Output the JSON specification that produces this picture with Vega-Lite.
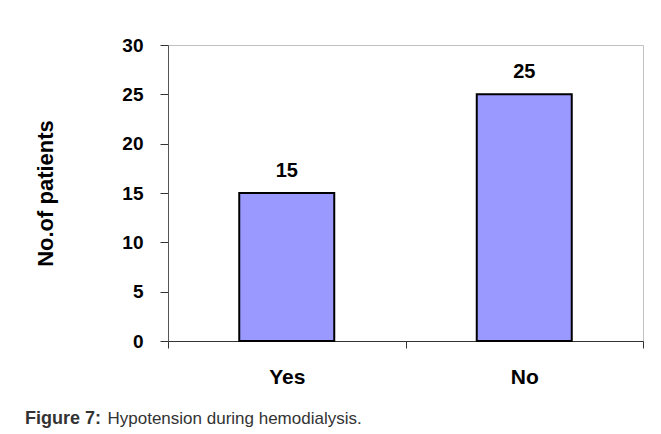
{
  "$schema": "https://vega.github.io/schema/vega-lite/v6.json",
  "width": 475,
  "height": 296,
  "autosize": {"type": "none"},
  "padding": {"left": 168, "top": 45, "right": 18, "bottom": 93},
  "background": "white",
  "data": {"values": [
    {"answer": "Yes", "patients": 15},
    {"answer": "No", "patients": 25}
  ]},
  "title": {
    "text": "Figure 7:",
    "orient": "bottom",
    "anchor": "start",
    "frame": "group",
    "dx": -143,
    "offset": -16,
    "font": "Liberation Sans",
    "fontSize": 18,
    "fontWeight": "bold",
    "color": "#333333"
  },
  "config": {
    "view": {"stroke": "#c0c0c0", "strokeWidth": 1},
    "axis": {"grid": false}
  },
  "encoding": {
    "x": {
      "field": "answer",
      "type": "nominal",
      "sort": ["Yes", "No"],
      "scale": {"paddingInner": 0, "paddingOuter": 0},
      "axis": {
        "labelAngle": 0,
        "tickBand": "extent",
        "tickSize": 7,
        "tickColor": "#333333",
        "domainColor": "#333333",
        "labelFont": "Liberation Sans",
        "labelFontSize": 21,
        "labelFontWeight": "bold",
        "labelColor": "#000000",
        "labelBaseline": "alphabetic",
        "labelPadding": 35,
        "title": "Hypotension during hemodialysis.",
        "titleFont": "Liberation Sans",
        "titleFontSize": 17,
        "titleFontWeight": "normal",
        "titleColor": "#333333",
        "titleAnchor": "start",
        "titleAlign": "left",
        "titleBaseline": "alphabetic",
        "titleX": -61,
        "titleY": 82
      }
    },
    "y": {
      "field": "patients",
      "type": "quantitative",
      "scale": {"domain": [0, 30], "nice": false},
      "axis": {
        "values": [0, 5, 10, 15, 20, 25, 30],
        "tickSize": 8,
        "tickColor": "#333333",
        "domainColor": "#555555",
        "labelFont": "Liberation Sans",
        "labelFontSize": 19,
        "labelFontWeight": "bold",
        "labelColor": "#000000",
        "labelPadding": 17,
        "title": "No.of patients",
        "titleFont": "Liberation Sans",
        "titleFontSize": 22,
        "titleFontWeight": "bold",
        "titleColor": "#000000",
        "titlePadding": 64
      }
    }
  },
  "layer": [
    {
      "mark": {"type": "bar", "width": {"band": 0.4}, "fill": "#9999ff", "stroke": "#000000", "strokeWidth": 2}
    },
    {
      "mark": {"type": "text", "dy": -16, "baseline": "alphabetic", "font": "Liberation Sans", "fontSize": 20, "fontWeight": "bold", "color": "#000000"},
      "encoding": {"text": {"field": "patients", "type": "quantitative"}}
    }
  ]
}
